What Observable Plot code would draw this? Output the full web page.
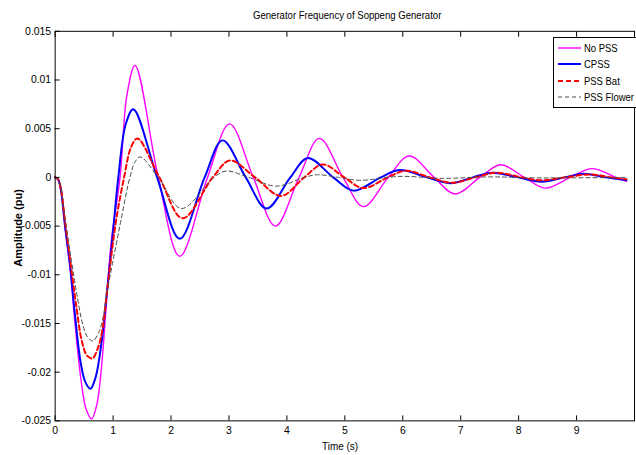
<!DOCTYPE html>
<html><head><meta charset="utf-8">
<script src="https://cdn.jsdelivr.net/npm/d3@7"></script>
<script src="https://cdn.jsdelivr.net/npm/@observablehq/plot@0.6"></script>
<style>
html,body{margin:0;padding:0;background:#fff;overflow:hidden;width:636px;height:455px}
#wrap{position:relative;width:636px;height:455px;overflow:hidden;font-family:"Liberation Sans",Arial,sans-serif;color:#000}
#chart{position:absolute;left:0;top:0}
.title{position:absolute;top:9px;left:240px;width:200px;text-align:center;font-size:11px;white-space:nowrap;transform:scaleX(0.87)}
.xlab{position:absolute;top:440px;left:290px;width:100px;text-align:center;font-size:11px;transform:scaleX(0.9)}
.ylab{position:absolute;left:18px;top:228px;transform:translate(-50%,-50%) rotate(-90deg);font-weight:bold;font-size:11px;white-space:nowrap}
.legclip{position:absolute;left:553px;top:37px;width:83px;height:74px;overflow:hidden}
.legbox{position:absolute;left:0;top:0;width:110px;height:71px;border:1px solid #000;background:#fff;box-sizing:border-box}
.row{position:absolute;left:3px;height:14px;display:flex;align-items:center;font-size:11px;white-space:nowrap}
.row svg{margin-right:2px;flex:none}
.row span{display:inline-block;transform:scaleX(0.86);transform-origin:left center}
</style></head><body><div id="wrap"><div id="chart"></div></div>
<script>
const xTicks = [0,1,2,3,4,5,6,7,8,9];
const yTicks = [0.015,0.01,0.005,0,-0.005,-0.01,-0.015,-0.02,-0.025];
const legendLabels = ["No PSS","CPSS","PSS Bat","PSS Flower"];

const noPss = [[0,0],[0.05,-0.0002],[0.1,-0.0013],[0.17,-0.005],[0.26,-0.0095],[0.34,-0.0148],[0.44,-0.0205],[0.53,-0.0237],[0.63,-0.0248],[0.72,-0.0233],[0.8,-0.0195],[0.89,-0.0125],[0.97,-0.0065],[1.12,0],[1.24,0.0085],[1.38,0.0115],[1.78,0],[2.15,-0.0081],[2.63,0],[3.01,0.0055],[3.42,0],[3.80,-0.0050],[4.21,0],[4.56,0.0040],[4.97,0],[5.32,-0.0030],[5.75,0],[6.11,0.0022],[6.54,0],[6.90,-0.0017],[7.33,0],[7.69,0.0013],[8.10,0],[8.46,-0.0011],[8.89,0],[9.27,0.0009],[9.68,0],[9.86,-0.0004]];
const cpss = [[0,0],[0.05,-0.0002],[0.1,-0.0013],[0.17,-0.005],[0.26,-0.0092],[0.34,-0.014],[0.44,-0.019],[0.52,-0.0210],[0.61,-0.0217],[0.70,-0.0205],[0.80,-0.017],[0.89,-0.012],[1.0,-0.0055],[1.09,0],[1.22,0.0055],[1.35,0.0070],[1.76,0],[2.15,-0.0063],[2.58,0],[2.89,0.0038],[3.29,0],[3.65,-0.0032],[4.06,0],[4.36,0.0020],[4.80,0],[5.15,-0.00136],[5.62,0],[5.94,0.00075],[6.42,0],[6.83,-0.0006],[7.21,0],[7.54,0.00048],[7.99,0],[8.40,-0.00044],[8.79,0],[9.12,0.00037],[9.50,0],[9.86,-0.0003]];
const pssBat = [[0,0],[0.05,-0.0002],[0.1,-0.0012],[0.17,-0.0045],[0.27,-0.009],[0.36,-0.013],[0.46,-0.0168],[0.55,-0.0183],[0.64,-0.0186],[0.74,-0.0175],[0.82,-0.0155],[0.89,-0.012],[1.05,-0.0045],[1.19,0],[1.31,0.0031],[1.42,0.0040],[1.80,0],[2.20,-0.0042],[2.72,0],[3.02,0.00173],[3.45,0],[3.90,-0.0019],[4.30,0],[4.62,0.00133],[4.99,0],[5.32,-0.0011],[5.74,0],[6.05,0.00068],[6.47,0],[6.85,-0.00055],[7.25,0],[7.62,0.00048],[8.06,0],[8.38,-0.0003],[8.80,0],[9.22,0.0003],[9.60,0],[9.86,-0.0002]];
const pssFlower = [[0,0],[0.05,-0.0002],[0.1,-0.0011],[0.17,-0.0042],[0.28,-0.0085],[0.38,-0.0122],[0.48,-0.0152],[0.56,-0.0164],[0.65,-0.0168],[0.76,-0.0158],[0.83,-0.0143],[0.89,-0.012],[1.1,-0.0055],[1.29,0],[1.38,0.0016],[1.47,0.0021],[1.78,0],[2.18,-0.0032],[2.74,0],[2.95,0.00065],[3.34,0],[3.82,-0.0009],[4.30,0],[4.53,0.00027],[4.89,0],[5.25,-0.0003],[5.95,0.0001],[6.7,-0.0001],[7.5,0.00005],[8.3,-0.00005],[9.86,0]];

const styles = [
  {stroke:"#ff00ff", strokeWidth:1.4, dash:null},
  {stroke:"#0000ff", strokeWidth:2, dash:null},
  {stroke:"#ff0000", strokeWidth:2, dash:"5,3"},
  {stroke:"#4a4a4a", strokeWidth:1, dash:"4,3"}
];
const allSeries = [noPss, cpss, pssBat, pssFlower];

const fmtY = d => String(+d.toFixed(3));

const lineMarks = allSeries.map((s,i) => Plot.line(s, {
  x: d => d[0], y: d => d[1], curve: "catmull-rom",
  stroke: styles[i].stroke, strokeWidth: styles[i].strokeWidth,
  strokeDasharray: styles[i].dash
}));

const chart = Plot.plot({
  width: 640, height: 455,
  marginTop: 31, marginBottom: 32, marginLeft: 55, marginRight: 2,
  x: {domain: [0, 10]},
  y: {domain: [-0.025, 0.015]},
  style: {fontFamily: '"Liberation Sans",Arial,sans-serif', fontSize: "10.5px", color: "#000", background: "transparent", overflow: "visible"},
  marks: [
    ...lineMarks,
    Plot.frame({stroke: "#000"}),
    Plot.axisX({ticks: xTicks, anchor: "bottom", tickSize: -5, tickFormat: () => "", label: null}),
    Plot.axisX({ticks: xTicks, anchor: "top", tickSize: -5, tickFormat: () => "", label: null}),
    Plot.axisX({ticks: xTicks, anchor: "bottom", tickSize: 0, tickPadding: 6, tickFormat: d => String(d), label: null}),
    Plot.axisY({ticks: yTicks, anchor: "left", tickSize: -5, tickFormat: () => "", label: null}),
    Plot.axisY({ticks: yTicks, anchor: "left", tickSize: 0, tickPadding: 4, tickFormat: fmtY, label: null})
  ]
});
const wrap = document.getElementById("wrap");
document.getElementById("chart").appendChild(chart);

function addDiv(cls, text) { const d = document.createElement("div"); d.className = cls; d.textContent = text; wrap.appendChild(d); return d; }
addDiv("title", "Generator Frequency of Soppeng Generator");
addDiv("xlab", "Time (s)");
addDiv("ylab", "Amplitude (pu)");

const clip = document.createElement("div"); clip.className = "legclip"; wrap.appendChild(clip);
const box = document.createElement("div"); box.className = "legbox"; clip.appendChild(box);
const rowTops = [3, 19, 36, 52];
legendLabels.forEach((name, i) => {
  const r = document.createElement("div"); r.className = "row"; r.style.top = rowTops[i] + "px";
  const st = styles[i];
  r.innerHTML = `<svg width="25" height="6"><line x1="1" y1="3" x2="24" y2="3" stroke="${st.stroke}" stroke-width="${st.strokeWidth}" ${st.dash ? `stroke-dasharray="${st.dash}"` : ""}/></svg><span>${name}</span>`;
  box.appendChild(r);
});
</script></body></html>
